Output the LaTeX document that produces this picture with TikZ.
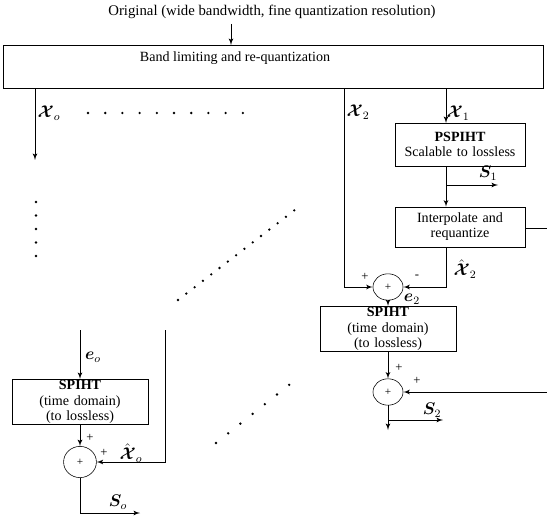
\documentclass[tikz,border=0pt]{standalone}
\usepackage{fontspec}
\setmainfont{Liberation Serif}
\usepackage{amsmath,bm}
\usetikzlibrary{arrows,positioning,shapes.geometric}

\tikzstyle{block} = [rectangle, draw, text width=3.1cm, text centered, inner sep=1pt, minimum height=1cm, font=\normalsize\linespread{0.9}\selectfont]
\tikzstyle{sum} = [ellipse, draw, minimum width=0.75cm, minimum height=0.66cm, inner sep=0pt, font=\footnotesize]
\tikzstyle{line} = [draw, semithick, -latex']
\tikzstyle{wire} = [draw, semithick]
\tikzstyle{lbl} = [inner sep=1pt, font=\large]
\tikzstyle{sign} = [inner sep=0pt, font=\small]

\begin{document}
\begin{tikzpicture}[x=0.025cm, y=-0.025cm, node distance = 2.5cm, auto]
    \useasboundingbox (0,0) rectangle (547,519);
    % Place nodes

    \node [font=\fontsize{10.5}{12}\selectfont] (orig) at (272,12) {Original (wide bandwidth, fine quantization resolution)};
    \node [draw, minimum width=13.5cm, minimum height=1.075cm, inner sep=0pt,
        label={[yshift=-0.62cm, xshift=-0.95cm]north:Band limiting and re-quantization}] (band) at (273,66.5) {};

    \node [block, minimum width=3.25cm, minimum height=1.075cm] (pspiht) at (460,144.5) {\textbf{PSPIHT}\\Scalable to lossless};
    \node [block, minimum width=3.25cm] (interp) at (460,227) {Interpolate and\\requantize};
    \node [sum] (sumone) at (388,287) {+};
    \node [block, minimum width=3.4cm, minimum height=1.05cm] (spihttwo) at (388,329) {\textbf{SPIHT}\\(time domain)\\(to lossless)};
    \node [sum] (sumtwo) at (388,392) {+};

    \node [block, minimum width=3.4cm, minimum height=0.95cm] (spihto) at (80,402) {\textbf{SPIHT}\\(time domain)\\(to lossless)};
    \node [sum, minimum width=0.82cm, minimum height=0.78cm] (sumo) at (80,462) {+};

    % free ends
    \coordinate (inpt) at (231,45);
    \coordinate (xo) at (35,160);
    \coordinate (xtwo) at (344,287);
    \coordinate (xone) at (446,123);
    \coordinate (sone) at (498,185);
    \coordinate (iout) at (547,228);
    \coordinate (fbtwo) at (547,392);
    \coordinate (outtwo) at (388,430);
    \coordinate (stwo) at (443,420);
    \coordinate (eo) at (80,330);
    \coordinate (xohat) at (165,330);
    \coordinate (so) at (140,513);

    % Draw edges
    \path [line] (orig.south -| inpt) -- (inpt);
    \path [line] (band.south -| xo) -- (xo);
    \path [line] (band.south -| xtwo) |- (sumone.west);
    \path [line] (band.south -| xone) -- (xone);
    \path [line] (pspiht.south -| xone) -- (interp.north -| xone);
    \path [line] (sone -| xone) -- (sone);
    \path [wire] (interp.east |- iout) -- (iout);
    \path [line] (interp.south -| xone) |- (sumone.east);
    \path [line] (sumone) -- (spihttwo);
    \path [line] (spihttwo) -- (sumtwo);
    \path [line] (fbtwo) -- (sumtwo.east);
    \path [line] (sumtwo) -- (outtwo);
    \path [line] (stwo -| sumtwo) -- (stwo);
    \path [line] (eo) -- (spihto);
    \path [line] (xohat) |- (sumo.east);
    \path [line] (spihto) -- (sumo);
    \path [line] (sumo) |- (so);

    % labels
    \node [lbl] (lxo) at (49,113) {$\bm{\mathcal{X}}_o$};
    \node [lbl] (lxtwo) at (358,112) {$\bm{\mathcal{X}}_2$};
    \node [lbl] (lxone) at (458,113) {$\bm{\mathcal{X}}_1$};
    \node [lbl] (lsone) at (488,173) {$\bm{S}_1$};
    \node [lbl] (lxhtwo) at (465,269) {$\hat{\bm{\mathcal{X}}}_2$};
    \node [sign] (mone) at (417,277) {-};
    \node [sign] (pone) at (365,277) {+};
    \node [lbl] (letwo) at (412,299) {$\bm{e}_2$};
    \node [sign] (ptwo) at (399,368) {+};
    \node [sign] (pthree) at (417,381) {+};
    \node [lbl] (lstwo) at (432,410) {$\bm{S}_2$};
    \node [lbl] (leo) at (93,357) {$\bm{e}_o$};
    \node [sign] (pfour) at (90,438) {+};
    \node [sign] (pfive) at (104,453) {+};
    \node [lbl] (lxho) at (131,453) {$\hat{\bm{\mathcal{X}}}_o$};
    \node [lbl] (lso) at (118,502) {$\bm{S}_o$};

    % dots
    \foreach \i in {0,...,9}
        \fill (88+\i*17.2,113) circle [radius=1.3];
    \foreach \i in {0,...,4}
        \fill (36,202+\i*13.5) circle [radius=1.3];
    \foreach \i in {0,...,14}
        \fill (178+\i*8.3,300-\i*6.4) circle [radius=1.3];
    \foreach \i in {0,...,6}
        \fill (216+\i*12.2,443-\i*9.7) circle [radius=1.3];

\end{tikzpicture}
\end{document}
